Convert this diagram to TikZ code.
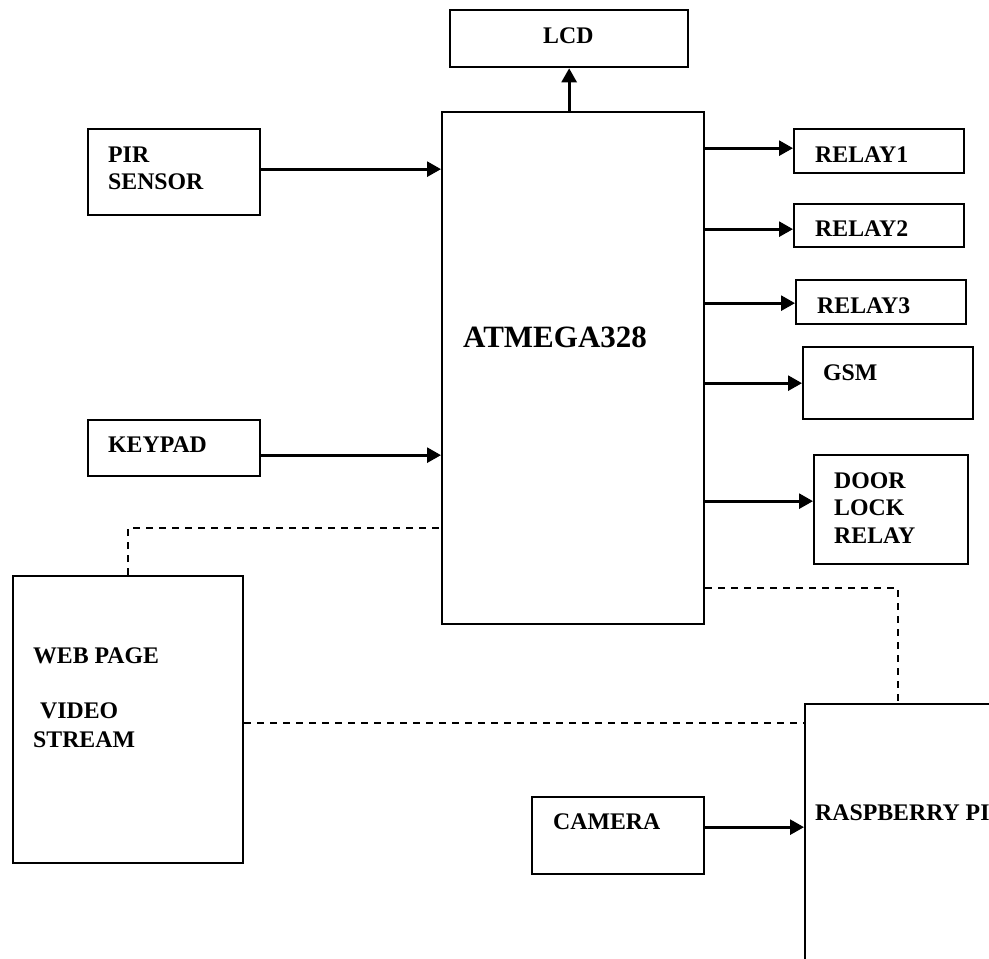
\documentclass[tikz,border=0pt]{standalone}
\usepackage{fontspec}
\setmainfont{Liberation Serif}
\usetikzlibrary{arrows.meta,calc}
\begin{document}
\begin{tikzpicture}[x=1pt,y=-1pt,
  box/.style={draw, line width=2.3pt, rectangle, inner sep=0pt, anchor=north west},
  lbl/.style={anchor=base west, inner sep=0pt, font=\fontsize{23.8}{27}\selectfont\bfseries},
  arr/.style={line width=2.8pt, -{Triangle[length=14pt,width=15pt]}},
  dsh/.style={line width=2pt, dash pattern=on 7pt off 6pt}]
\useasboundingbox (0,0) rectangle (989,959);
\clip (0,0) rectangle (989,959);
% boxes
\node[box, minimum width=238pt, minimum height=57pt] (lcd) at (449,9) {};
\node[box, minimum width=262pt, minimum height=512pt] (atm) at (441,111) {};
\node[box, minimum width=172pt, minimum height=86pt] (pir) at (87,128) {};
\node[box, minimum width=172pt, minimum height=56pt] (kp) at (87,419) {};
\node[box, minimum width=170pt, minimum height=44pt] (r1) at (793,128) {};
\node[box, minimum width=170pt, minimum height=43pt] (r2) at (793,203) {};
\node[box, minimum width=170pt, minimum height=44pt] (r3) at (795,279) {};
\node[box, minimum width=170pt, minimum height=72pt] (gsm) at (802,346) {};
\node[box, minimum width=154pt, minimum height=109pt] (door) at (813,454) {};
\node[box, minimum width=230pt, minimum height=287pt] (web) at (12,575) {};
\node[box, minimum width=172pt, minimum height=77pt] (cam) at (531,796) {};
\node[box, minimum width=186pt, minimum height=280pt] (rpi) at (804,703) {};
% labels
\node[lbl] (lcdT) at (543,43) {LCD};
\node[lbl, font=\fontsize{31}{34}\selectfont\bfseries] (atmT) at (463,347) {ATMEGA328};
\node[lbl] (pirT1) at (108,162) {PIR};
\node[lbl] (pirT2) at (108,189) {SENSOR};
\node[lbl] (kpT) at (108,452) {KEYPAD};
\node[lbl] (r1T) at (815,162) {RELAY1};
\node[lbl] (r2T) at (815,236) {RELAY2};
\node[lbl] (r3T) at (817,313) {RELAY3};
\node[lbl] (gsmT) at (823,380) {GSM};
\node[lbl] (doorT1) at (834,488) {DOOR};
\node[lbl] (doorT2) at (834,515) {LOCK};
\node[lbl] (doorT3) at (834,543) {RELAY};
\node[lbl] (webT1) at (33,663) {WEB PAGE};
\node[lbl] (webT2) at (40,718) {VIDEO};
\node[lbl] (webT3) at (33,747) {STREAM};
\node[lbl] (camT) at (553,829) {CAMERA};
\node[lbl] (rpiT) at (815,820) {RASPBERRY PI};
% arrows
\draw[arr] (atm.north -| lcd.south) -- (lcd.south);
\draw[arr] ([yshift=3pt]pir.east) -- ([yshift=3pt]pir.east -| atm.west);
\draw[arr] ([yshift=-7pt]kp.east) -- ([yshift=-7pt]kp.east -| atm.west);
\draw[arr] ([yshift=3pt]r1.west -| atm.east) -- ([yshift=3pt]r1.west);
\draw[arr] ([yshift=-3.5pt]r2.west -| atm.east) -- ([yshift=-3.5pt]r2.west);
\draw[arr] ([yshift=-1pt]r3.west -| atm.east) -- ([yshift=-1pt]r3.west);
\draw[arr] (gsm.west -| atm.east) -- (gsm.west);
\draw[arr] ([yshift=8.5pt]door.west -| atm.east) -- ([yshift=8.5pt]door.west);
\draw[arr] ([yshift=8.5pt]cam.east) -- ([yshift=8.5pt]cam.east -| rpi.west);
% dashed links
\draw[dsh] (web.north) |- ([yshift=-160pt]atm.west);
\draw[dsh] ([yshift=-220pt]atm.east) -| (rpi.north);
\draw[dsh] ([yshift=-3.5pt]web.east) -- ([yshift=-3.5pt]web.east -| rpi.west);
\end{tikzpicture}
\end{document}
